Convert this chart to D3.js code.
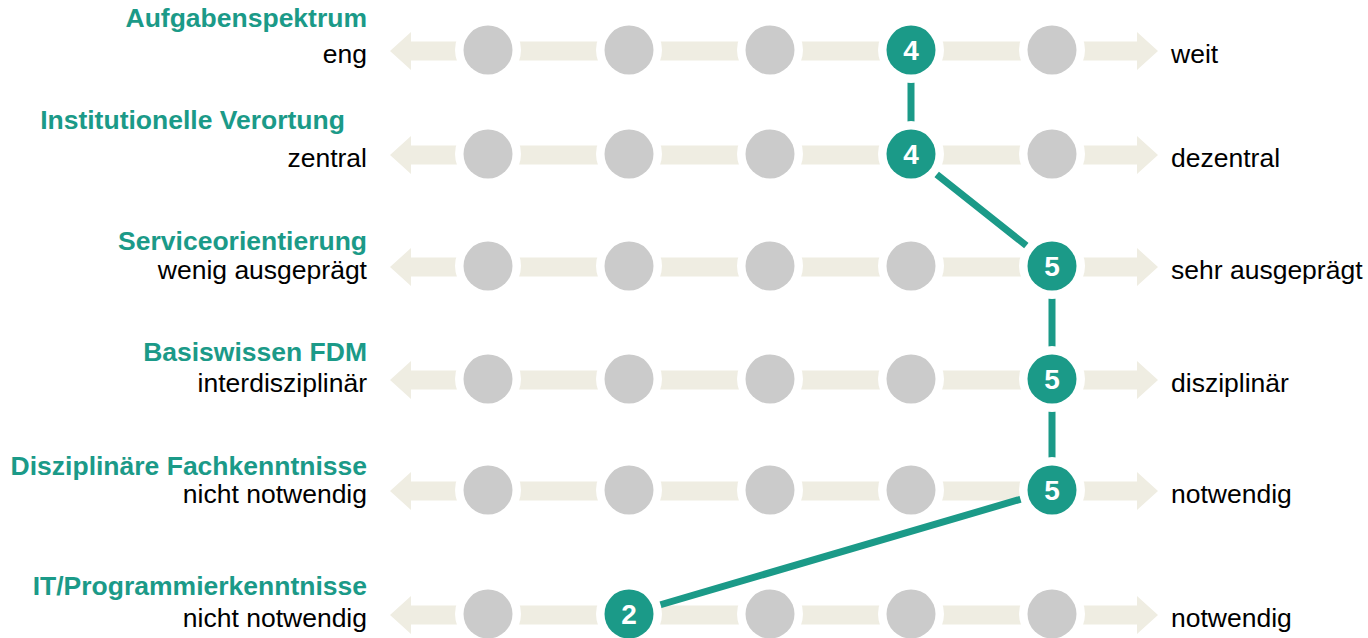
<!DOCTYPE html>
<html>
<head>
<meta charset="utf-8">
<script src="https://cdn.jsdelivr.net/npm/d3@7"></script>
<style>
    body { margin: 0; background: #fff; }
    svg { display: block; font-family: 'Liberation Sans', Arial, sans-serif; }
</style>
</head>
<body>
<script>
// profile dimensions, their poles and the rating on a 1..5 scale
const dimensions = [
    'Aufgabenspektrum',
    'Institutionelle Verortung\u00A0\u00A0\u00A0',
    'Serviceorientierung',
    'Basiswissen FDM',
    'Disziplinäre Fachkenntnisse',
    'IT/Programmierkenntnisse'
];
const leftPoles = ['eng', 'zentral', 'wenig ausgeprägt', 'interdisziplinär', 'nicht notwendig', 'nicht notwendig'];
const rightPoles = ['weit', 'dezentral', 'sehr ausgeprägt', 'disziplinär', 'notwendig', 'notwendig'];
const ratings = [4, 4, 5, 5, 5, 2];
const steps = [1, 2, 3, 4, 5];

const width = 1368;
const height = 638;
const teal = '#1b9a88';
const grey = '#cbcbcb';
const beige = '#efede2';

// row layout (rows are not evenly spaced in the original)
const rowPositions = [50, 154, 266, 379, 490, 614];
const titleOffsets = [-23, -25, -16, -18, -15, -19];

const svg = d3.select('body')
    .append('svg')
    .attr('width', width)
    .attr('height', height);

const x = d3.scalePoint()
    .domain(steps)
    .range([488, 1052]);

const y = d3.scaleOrdinal()
    .domain(dimensions)
    .range(rowPositions);

const rows = dimensions.map((d, i) => ({
    name: d,
    left: leftPoles[i],
    right: rightPoles[i],
    rating: ratings[i],
    titleDy: titleOffsets[i]
}));

// double-headed arrows behind every row
const x0 = x(steps[0]) - 98;
const x1 = x(steps[steps.length - 1]) + 106;
const head = 21, headH = 19, bandH = 9.5;

function arrowPath(c) {
    return d3.line()([
        [x0, c], [x0 + head, c - headH], [x0 + head, c - bandH],
        [x1 - head, c - bandH], [x1 - head, c - headH], [x1, c],
        [x1 - head, c + headH], [x1 - head, c + bandH],
        [x0 + head, c + bandH], [x0 + head, c + headH]
    ]) + 'Z';
}

svg.append('g')
    .selectAll('path')
    .data(rows)
    .join('path')
    .attr('d', d => arrowPath(y(d.name) + 1))
    .attr('fill', beige);

// connector through the selected ratings
svg.append('path')
    .datum(rows)
    .attr('fill', 'none')
    .attr('stroke', teal)
    .attr('stroke-width', 7)
    .attr('d', d3.line()
        .x(d => x(d.rating))
        .y(d => y(d.name)));

const row = svg.append('g')
    .selectAll('g')
    .data(rows)
    .join('g')
    .attr('transform', d => `translate(0,${y(d.name)})`);

const dots = row.selectAll('g.dot')
    .data(d => steps.map(s => ({ step: s, active: s === d.rating })))
    .join('g')
    .attr('class', 'dot')
    .attr('transform', d => `translate(${x(d.step)},0)`);

dots.append('circle')
    .attr('r', 33)
    .attr('fill', '#fff');

dots.append('circle')
    .attr('r', 24.5)
    .attr('fill', d => d.active ? teal : grey);

dots.filter(d => d.active)
    .append('text')
    .text(d => d.step)
    .attr('text-anchor', 'middle')
    .attr('dy', 10)
    .attr('fill', '#fff')
    .style('font-size', '28px')
    .style('font-weight', 'bold');

// labels
row.append('text')
    .text(d => d.name)
    .attr('x', 367)
    .attr('y', d => d.titleDy)
    .attr('text-anchor', 'end')
    .attr('fill', teal)
    .style('font-size', '26.5px')
    .style('font-weight', 'bold')
    .style('white-space', 'pre');

row.append('text')
    .text(d => d.left)
    .attr('x', 367)
    .attr('y', 12.5)
    .attr('text-anchor', 'end')
    .attr('fill', '#000')
    .style('font-size', '26.5px');

row.append('text')
    .text(d => d.right)
    .attr('x', 1171)
    .attr('y', 12.5)
    .attr('fill', '#000')
    .style('font-size', '26.5px');
</script>
</body>
</html>
